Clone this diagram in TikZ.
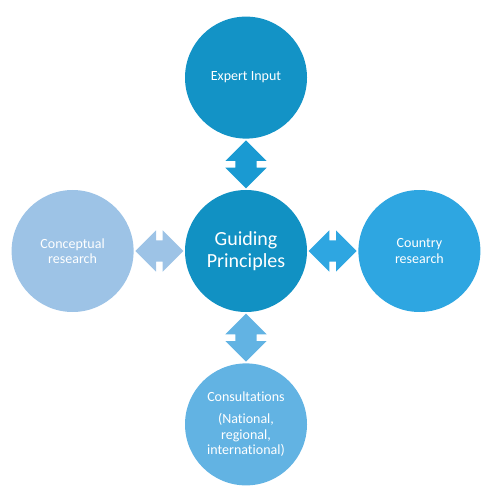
\documentclass[tikz,border=0pt]{standalone}
\usepackage{fontspec}
\setmainfont{Carlito}[Ligatures=NoCommon]
\usepackage{tikz}
\usetikzlibrary{positioning,shapes.arrows,calc}

\definecolor{GuideBlue}{HTML}{1191C3}
\definecolor{ExpertBlue}{HTML}{1393C6}
\definecolor{ExpertArrow}{HTML}{1A9AD2}
\definecolor{CountryBlue}{HTML}{2EA6E1}
\definecolor{ConceptBlue}{HTML}{9DC3E6}
\definecolor{ConsultBlue}{HTML}{62B3E3}

\begin{document}
\begin{tikzpicture}[x=1pt,y=1pt,node distance=51pt,
  topic/.style={circle,minimum size=122pt,inner sep=0pt,text=white,align=center,
                font=\fontsize{14}{15.6}\selectfont},
  link/.style={double arrow,double arrow head extend=10pt,inner xsep=0pt,inner ysep=10.5pt,
               minimum height=48pt,minimum width=41pt}]

\useasboundingbox (0,0) rectangle (498,-502);

\node[topic, fill=GuideBlue, font=\fontsize{20}{22}\selectfont] (G) at (246,-251) {Guiding\\Principles};

\node[topic, fill=ExpertBlue]  (E) [above=of G] {Expert Input};
\node[topic, fill=ConceptBlue] (R) [left=of G]  {Conceptual\\research};
\node[topic, fill=CountryBlue] (C) [right=of G] {Country\\research};
\node[topic, fill=ConsultBlue] (S) [below=of G] {Consultations\\[6pt](National,\\regional,\\international)};

\node[link, fill=ExpertArrow, rotate=90] (GE) at ($(G.north)!0.5!(E.south)$) {};
\node[link, fill=ConceptBlue]            (GR) at ($(G.west)!0.5!(R.east)$)   {};
\node[link, fill=CountryBlue]            (GC) at ($(G.east)!0.5!(C.west)$)   {};
\node[link, fill=ConsultBlue, rotate=90] (GS) at ($(G.south)!0.5!(S.north)$) {};

\end{tikzpicture}
\end{document}
